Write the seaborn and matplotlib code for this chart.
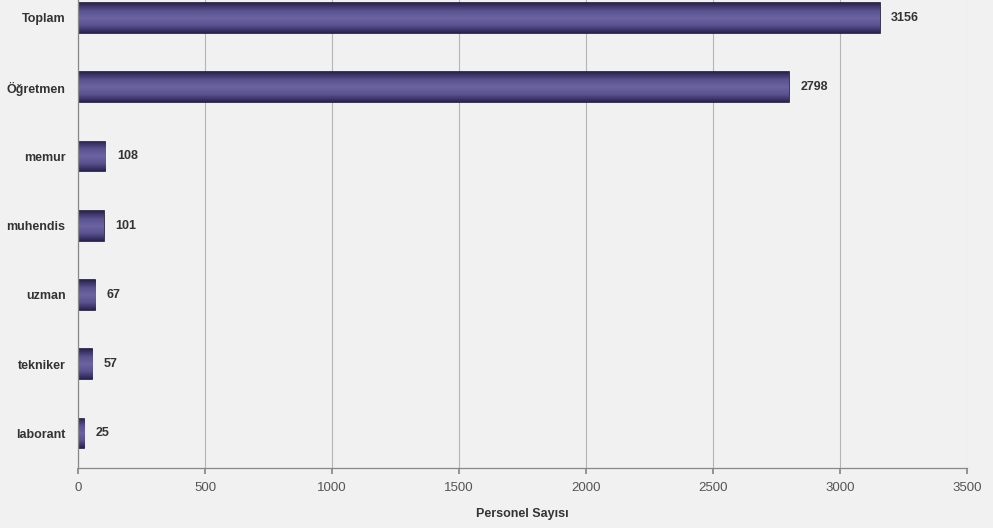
import matplotlib
matplotlib.use("Agg")
import matplotlib.pyplot as plt
import seaborn as sns
import pandas as pd
import numpy as np
from matplotlib.colors import LinearSegmentedColormap

categories = ["Toplam", "Öğretmen", "memur", "muhendis", "uzman", "tekniker", "laborant"]
values = [3156, 2798, 108, 101, 67, 57, 25]
xticks = [0, 500, 1000, 1500, 2000, 2500, 3000, 3500]
xlabel = "Personel Sayısı"

sns.set_theme(style="white")
plt.rcParams['font.family'] = ['Liberation Sans', 'DejaVu Sans']

df = pd.DataFrame({"cat": categories, "val": values})

fig = plt.figure(figsize=(9.93, 5.28), dpi=100)
fig.patch.set_facecolor("#f1f1f1")
ax = fig.add_axes([0.0785, 0.1136, 0.8955, 0.918])
ax.set_facecolor("#f1f1f1")

sns.barplot(data=df, y="cat", x="val", orient="h", ax=ax, color="#5a528e",
            width=0.43, edgecolor="#1c1633", linewidth=1.2, saturation=1)

ax.set_xlim(0, 3500)
ax.set_ylim(len(categories) - 0.5, -0.5)

# subtle cylindrical shading on bars
cmap = LinearSegmentedColormap.from_list(
    "barshade", ["#2a2452", "#5a528e", "#6c64a2", "#5a528e", "#2a2452"])
grad = np.linspace(0, 1, 64).reshape(-1, 1)
for p in list(ax.patches):
    x0, y0 = p.get_x(), p.get_y()
    w, h = p.get_width(), p.get_height()
    im = ax.imshow(grad, cmap=cmap, aspect="auto",
                   extent=(x0, x0 + w, y0 + h, y0), zorder=p.get_zorder() + 0.1,
                   interpolation="bilinear")
    im.set_clip_path(p)
    p.set_zorder(p.get_zorder())
ax.set_xlim(0, 3500)
ax.set_ylim(len(categories) - 0.5, -0.5)
ax.set_aspect("auto")

ax.set_xticks(xticks)
ax.set_xticklabels([str(t) for t in xticks], fontsize=9.5, color="#555555")
ax.xaxis.grid(True, color="#b5b5b5", linewidth=0.8)
ax.set_axisbelow(True)
ax.tick_params(axis="x", length=4, color="#888888", pad=6, bottom=True)
ax.tick_params(axis="y", length=0, pad=9)
for lbl in ax.get_yticklabels():
    lbl.set_fontweight("bold")
    lbl.set_fontsize(9)
    lbl.set_color("#333333")
ax.set_ylabel("")
ax.set_xlabel(xlabel, fontsize=9, fontweight="bold", color="#333333", labelpad=10)

for s in ["top", "right"]:
    ax.spines[s].set_visible(False)
for s in ["left", "bottom"]:
    ax.spines[s].set_color("#888888")
    ax.spines[s].set_linewidth(0.9)

for i, v in enumerate(values):
    ax.text(v + 45, i, str(v), va="center", ha="left", fontsize=9,
            fontweight="bold", color="#333333", zorder=5)

fig.savefig("out.png", dpi=100, facecolor=fig.get_facecolor())
